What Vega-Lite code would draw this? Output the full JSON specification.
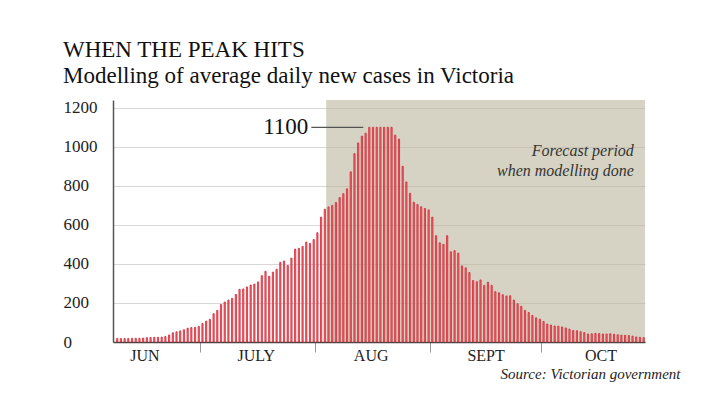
{
  "$schema": "https://vega.github.io/schema/vega-lite/v6.json",
  "width": 532,
  "height": 242,
  "padding": {"left": 63, "top": 38, "right": 10, "bottom": 10},
  "background": "white",
  "title": {
    "text": "WHEN THE PEAK HITS",
    "subtitle": "Modelling of average daily new cases in Victoria",
    "anchor": "start",
    "frame": "bounds",
    "font": "Liberation Serif",
    "fontSize": 23,
    "fontWeight": "normal",
    "color": "#111",
    "subtitleFont": "Liberation Serif",
    "subtitleFontSize": 23,
    "subtitleColor": "#111",
    "subtitlePadding": 3,
    "offset": 11
  },
  "config": {"view": {"stroke": null}},
  "datasets": {
    "cases": [
      {"date": "2020-06-08", "cases": 18}, {"date": "2020-06-09", "cases": 18}, {"date": "2020-06-10", "cases": 18}, {"date": "2020-06-11", "cases": 18},
      {"date": "2020-06-12", "cases": 19}, {"date": "2020-06-13", "cases": 19}, {"date": "2020-06-14", "cases": 19}, {"date": "2020-06-15", "cases": 20},
      {"date": "2020-06-16", "cases": 22}, {"date": "2020-06-17", "cases": 23}, {"date": "2020-06-18", "cases": 24}, {"date": "2020-06-19", "cases": 24},
      {"date": "2020-06-20", "cases": 25}, {"date": "2020-06-21", "cases": 28}, {"date": "2020-06-22", "cases": 36}, {"date": "2020-06-23", "cases": 47},
      {"date": "2020-06-24", "cases": 52}, {"date": "2020-06-25", "cases": 57}, {"date": "2020-06-26", "cases": 63}, {"date": "2020-06-27", "cases": 71},
      {"date": "2020-06-28", "cases": 74}, {"date": "2020-06-29", "cases": 75}, {"date": "2020-06-30", "cases": 80},
      {"date": "2020-07-01", "cases": 95}, {"date": "2020-07-02", "cases": 107}, {"date": "2020-07-03", "cases": 116}, {"date": "2020-07-04", "cases": 145},
      {"date": "2020-07-05", "cases": 162}, {"date": "2020-07-06", "cases": 192}, {"date": "2020-07-07", "cases": 205}, {"date": "2020-07-08", "cases": 215},
      {"date": "2020-07-09", "cases": 224}, {"date": "2020-07-10", "cases": 244}, {"date": "2020-07-11", "cases": 270}, {"date": "2020-07-12", "cases": 272},
      {"date": "2020-07-13", "cases": 282}, {"date": "2020-07-14", "cases": 292}, {"date": "2020-07-15", "cases": 297}, {"date": "2020-07-16", "cases": 308},
      {"date": "2020-07-17", "cases": 340}, {"date": "2020-07-18", "cases": 362}, {"date": "2020-07-19", "cases": 337}, {"date": "2020-07-20", "cases": 358},
      {"date": "2020-07-21", "cases": 373}, {"date": "2020-07-22", "cases": 408}, {"date": "2020-07-23", "cases": 415}, {"date": "2020-07-24", "cases": 392},
      {"date": "2020-07-25", "cases": 430}, {"date": "2020-07-26", "cases": 476}, {"date": "2020-07-27", "cases": 480}, {"date": "2020-07-28", "cases": 490},
      {"date": "2020-07-29", "cases": 512}, {"date": "2020-07-30", "cases": 505}, {"date": "2020-07-31", "cases": 525},
      {"date": "2020-08-01", "cases": 560}, {"date": "2020-08-02", "cases": 640}, {"date": "2020-08-03", "cases": 680}, {"date": "2020-08-04", "cases": 692},
      {"date": "2020-08-05", "cases": 700}, {"date": "2020-08-06", "cases": 715}, {"date": "2020-08-07", "cases": 740}, {"date": "2020-08-08", "cases": 760},
      {"date": "2020-08-09", "cases": 785}, {"date": "2020-08-10", "cases": 872}, {"date": "2020-08-11", "cases": 965}, {"date": "2020-08-12", "cases": 1020},
      {"date": "2020-08-13", "cases": 1055}, {"date": "2020-08-14", "cases": 1070}, {"date": "2020-08-15", "cases": 1100}, {"date": "2020-08-16", "cases": 1100},
      {"date": "2020-08-17", "cases": 1100}, {"date": "2020-08-18", "cases": 1100}, {"date": "2020-08-19", "cases": 1100}, {"date": "2020-08-20", "cases": 1100},
      {"date": "2020-08-21", "cases": 1100}, {"date": "2020-08-22", "cases": 1060}, {"date": "2020-08-23", "cases": 1040}, {"date": "2020-08-24", "cases": 900},
      {"date": "2020-08-25", "cases": 820}, {"date": "2020-08-26", "cases": 762}, {"date": "2020-08-27", "cases": 716}, {"date": "2020-08-28", "cases": 705},
      {"date": "2020-08-29", "cases": 693}, {"date": "2020-08-30", "cases": 684}, {"date": "2020-08-31", "cases": 677},
      {"date": "2020-09-01", "cases": 640}, {"date": "2020-09-02", "cases": 545}, {"date": "2020-09-03", "cases": 508}, {"date": "2020-09-04", "cases": 500},
      {"date": "2020-09-05", "cases": 545}, {"date": "2020-09-06", "cases": 462}, {"date": "2020-09-07", "cases": 468}, {"date": "2020-09-08", "cases": 455},
      {"date": "2020-09-09", "cases": 390}, {"date": "2020-09-10", "cases": 380}, {"date": "2020-09-11", "cases": 356}, {"date": "2020-09-12", "cases": 315},
      {"date": "2020-09-13", "cases": 309}, {"date": "2020-09-14", "cases": 318}, {"date": "2020-09-15", "cases": 290}, {"date": "2020-09-16", "cases": 306},
      {"date": "2020-09-17", "cases": 290}, {"date": "2020-09-18", "cases": 258}, {"date": "2020-09-19", "cases": 252}, {"date": "2020-09-20", "cases": 242},
      {"date": "2020-09-21", "cases": 236}, {"date": "2020-09-22", "cases": 237}, {"date": "2020-09-23", "cases": 215}, {"date": "2020-09-24", "cases": 196},
      {"date": "2020-09-25", "cases": 183}, {"date": "2020-09-26", "cases": 162}, {"date": "2020-09-27", "cases": 151}, {"date": "2020-09-28", "cases": 136},
      {"date": "2020-09-29", "cases": 124}, {"date": "2020-09-30", "cases": 117},
      {"date": "2020-10-01", "cases": 105}, {"date": "2020-10-02", "cases": 92}, {"date": "2020-10-03", "cases": 87}, {"date": "2020-10-04", "cases": 82},
      {"date": "2020-10-05", "cases": 81}, {"date": "2020-10-06", "cases": 77}, {"date": "2020-10-07", "cases": 72}, {"date": "2020-10-08", "cases": 66},
      {"date": "2020-10-09", "cases": 59}, {"date": "2020-10-10", "cases": 58}, {"date": "2020-10-11", "cases": 53}, {"date": "2020-10-12", "cases": 48},
      {"date": "2020-10-13", "cases": 41}, {"date": "2020-10-14", "cases": 42}, {"date": "2020-10-15", "cases": 44}, {"date": "2020-10-16", "cases": 43},
      {"date": "2020-10-17", "cases": 41}, {"date": "2020-10-18", "cases": 41}, {"date": "2020-10-19", "cases": 42}, {"date": "2020-10-20", "cases": 40},
      {"date": "2020-10-21", "cases": 37}, {"date": "2020-10-22", "cases": 35}, {"date": "2020-10-23", "cases": 34}, {"date": "2020-10-24", "cases": 33},
      {"date": "2020-10-25", "cases": 30}, {"date": "2020-10-26", "cases": 26}, {"date": "2020-10-27", "cases": 24}, {"date": "2020-10-28", "cases": 22}
    ]
  },
  "resolve": {"axis": {"x": "independent"}},
  "layer": [
    {
      "data": {"values": [{"from": "2020-08-04", "to": "2020-10-29"}]},
      "mark": {"type": "rect", "color": "#bbb69d", "opacity": 0.6},
      "encoding": {
        "x": {
          "field": "from", "type": "temporal",
          "scale": {"type": "utc", "domain": [{"year": 2020, "month": 6, "date": 7, "hours": 12, "utc": true}, {"year": 2020, "month": 10, "date": 29, "utc": true}]},
          "axis": {
            "orient": "bottom",
            "values": [{"year": 2020, "month": 7, "date": 1, "utc": true}, {"year": 2020, "month": 8, "date": 1, "utc": true}, {"year": 2020, "month": 9, "date": 1, "utc": true}, {"year": 2020, "month": 10, "date": 1, "utc": true}],
            "labels": false,
            "grid": false,
            "tickSize": 10,
            "tickColor": "#999",
            "tickWidth": 1,
            "domainColor": "#444",
            "domainWidth": 1.5,
            "title": "Source: Victorian government",
            "titleFont": "Liberation Serif",
            "titleFontStyle": "italic",
            "titleFontWeight": "normal",
            "titleFontSize": 15,
            "titleColor": "#222",
            "titleAlign": "right",
            "titleBaseline": "alphabetic",
            "titleX": 567,
            "titleY": 36
          }
        },
        "x2": {"field": "to"}
      }
    },
    {
      "data": {"name": "cases"},
      "mark": {"type": "bar", "width": {"band": 0.6}, "fill": "#f0787e", "stroke": "#d42633", "strokeWidth": 0.8},
      "encoding": {
        "x": {
          "field": "date", "type": "temporal", "timeUnit": "utcyearmonthdate",
          "scale": {"type": "utc"},
          "axis": {
            "orient": "bottom",
            "values": [{"year": 2020, "month": 6, "date": 16, "utc": true}, {"year": 2020, "month": 7, "date": 16, "utc": true}, {"year": 2020, "month": 8, "date": 16, "utc": true}, {"year": 2020, "month": 9, "date": 16, "utc": true}, {"year": 2020, "month": 10, "date": 17, "utc": true}],
            "labelExpr": "['JUN','JULY','AUG','SEPT','OCT'][utcmonth(datum.value)-5]",
            "ticks": false,
            "tickSize": 0,
            "domain": false,
            "grid": false,
            "labelPadding": 5,
            "labelFlush": false,
            "labelFont": "Liberation Serif",
            "labelFontSize": 16,
            "labelColor": "#222",
            "title": null
          }
        },
        "y": {
          "field": "cases", "type": "quantitative",
          "scale": {"domain": [0, 1240], "nice": false},
          "axis": {
            "values": [0, 200, 400, 600, 800, 1000, 1200],
            "format": "d",
            "title": null,
            "ticks": false,
            "tickSize": 0,
            "labelAlign": "left",
            "labelBaseline": "middle",
            "labelPadding": 50,
            "labelFont": "Liberation Serif",
            "labelFontSize": 17,
            "labelColor": "#222",
            "grid": true,
            "gridColor": "#d8d8d8",
            "domainColor": "#555",
            "domainWidth": 1.5
          }
        }
      }
    },
    {
      "data": {"values": [{"start": "2020-07-31", "end": "2020-08-14", "v": 1100}]},
      "mark": {"type": "rule", "color": "#555", "strokeWidth": 1.2},
      "encoding": {
        "x": {"field": "start", "type": "temporal", "scale": {"type": "utc"}, "axis": null},
        "x2": {"field": "end"},
        "y": {"field": "v", "type": "quantitative", "title": null}
      }
    },
    {
      "data": {"values": [{"start": "2020-07-31", "v": 1100, "label": "1100"}]},
      "mark": {"type": "text", "align": "right", "baseline": "middle", "dx": -3, "font": "Liberation Serif", "fontSize": 23, "color": "#111"},
      "encoding": {
        "x": {"field": "start", "type": "temporal", "scale": {"type": "utc"}, "axis": null},
        "y": {"field": "v", "type": "quantitative", "title": null},
        "text": {"field": "label", "type": "nominal"}
      }
    },
    {
      "data": {"values": [{"d": "2020-10-26", "v": 953, "note": "Forecast period|when modelling done"}]},
      "mark": {"type": "text", "align": "right", "baseline": "alphabetic", "lineBreak": "|", "lineHeight": 20, "font": "Liberation Serif", "fontStyle": "italic", "fontSize": 16, "color": "#333"},
      "encoding": {
        "x": {"field": "d", "type": "temporal", "scale": {"type": "utc"}, "axis": null},
        "y": {"field": "v", "type": "quantitative", "title": null},
        "text": {"field": "note", "type": "nominal"}
      }
    }
  ]
}
